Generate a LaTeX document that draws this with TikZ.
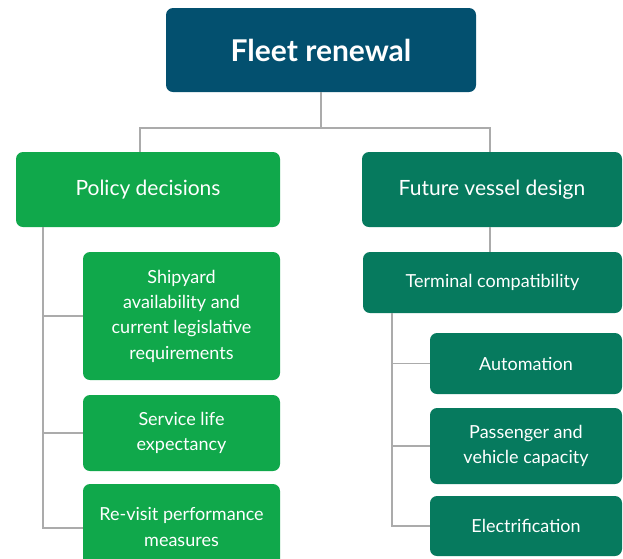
\documentclass[tikz,border=0pt]{standalone}
\usepackage{fontspec}
\setmainfont{Lato}
\definecolor{topblue}{HTML}{03506F}
\definecolor{lgreen}{HTML}{10A84B}
\definecolor{dteal}{HTML}{067A5E}
\definecolor{conngray}{HTML}{ABABAB}
\begin{document}
\begin{tikzpicture}[x=1pt,y=-1pt,
  box/.style={rectangle, rounded corners=7pt, inner sep=0pt, outer sep=0pt, text=white, align=center},
  gbox/.style={box, fill=lgreen},
  tbox/.style={box, fill=dteal},
  small/.style={font=\fontsize{18}{25.3}\selectfont},
  big/.style={font=\fontsize{21}{26}\selectfont},
  conn/.style={draw=conngray, line width=1.5pt}]
\useasboundingbox (0,0) rectangle (623,558);
\clip (0,0) rectangle (623,558);
\node[box, fill=topblue, minimum width=310pt, minimum height=84pt, font=\bfseries\fontsize{30}{34}\selectfont] (top) at (321,50) {Fleet renewal};
\node[gbox, big, minimum width=264pt, minimum height=75pt] (pol) at (148,189.5) {\raisebox{-2pt}{Policy decisions}};
\node[tbox, big, minimum width=260pt, minimum height=75pt] (fut) at (492,189.5) {\raisebox{-2pt}{Future vessel design}};
\node[tbox, small, minimum width=259pt, minimum height=61pt] (term) at (492.5,282.5) {\raisebox{-1pt}{Terminal compatibility}};
\node[gbox, small, minimum width=197pt, minimum height=128pt] (ship) at (181.5,316) {Shipyard\\availability and\\current legislative\\requirements};
\node[gbox, small, minimum width=197pt, minimum height=76pt] (serv) at (181.5,433) {Service life\\expectancy};
\node[gbox, small, minimum width=197pt, minimum height=86pt] (rev) at (181.5,527) {Re-visit performance\\measures};
\node[tbox, small, minimum width=192pt, minimum height=61pt] (auto) at (526,363.5) {\raisebox{-1pt}{Automation}};
\node[tbox, small, minimum width=192pt, minimum height=76pt] (pass) at (526,446) {Passenger and\\vehicle capacity};
\node[tbox, small, minimum width=192pt, minimum height=60pt] (elec) at (526,526) {\raisebox{-1pt}{Electrification}};
\coordinate (jt) at (321,128);
\coordinate (ls) at (43,227);
\coordinate (rs) at (392,313);
\draw[conn] (top.south) -- (jt);
\draw[conn] ([xshift=-8pt]pol.north) |- (jt) -| ([xshift=-2pt]fut.north);
\draw[conn] ([xshift=-2pt]fut.south) -- ([xshift=-2pt]term.north -| fut.south);
\draw[conn] (ls) |- (ship.west);
\draw[conn] (ls) |- (serv.west);
\draw[conn] (ls) |- ([yshift=-1pt]rev.west);
\draw[conn] (rs) |- (auto.west);
\draw[conn] (rs) |- (pass.west);
\draw[conn] (rs) |- (elec.west);
\end{tikzpicture}
\end{document}
